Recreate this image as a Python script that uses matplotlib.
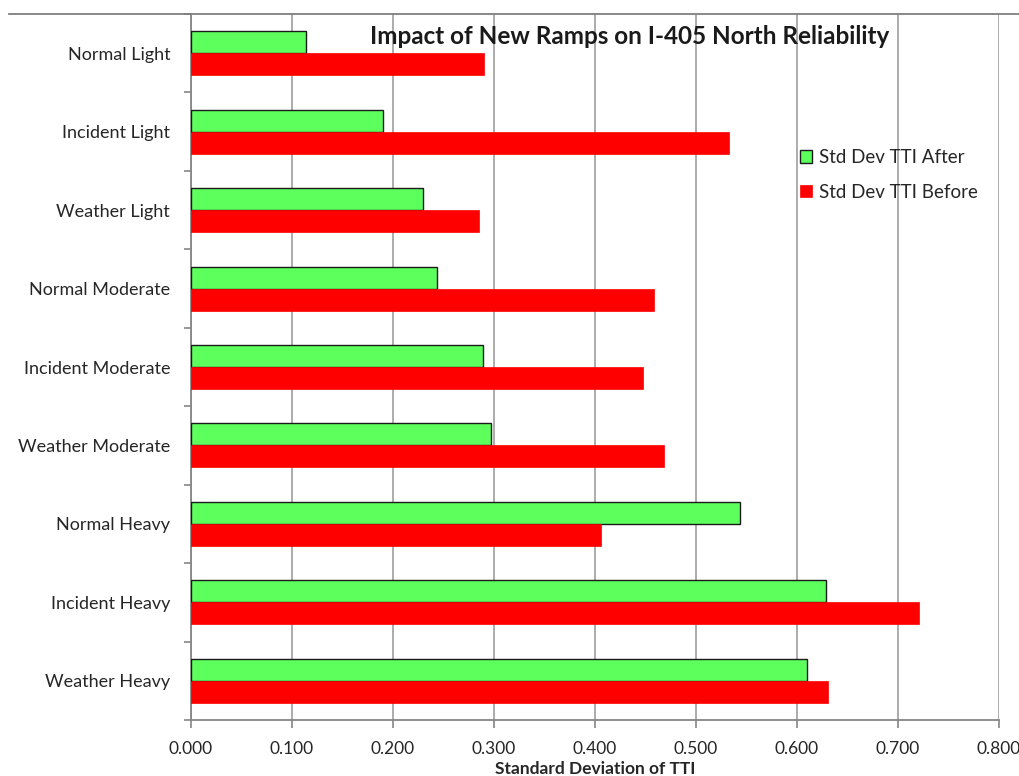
import numpy as np
import matplotlib.pyplot as plt
from matplotlib.lines import Line2D

plt.rcParams['font.family'] = ['Lato', 'DejaVu Sans']

categories = ['Normal Light', 'Incident Light', 'Weather Light',
              'Normal Moderate', 'Incident Moderate', 'Weather Moderate',
              'Normal Heavy', 'Incident Heavy', 'Weather Heavy']
std_after = [0.114, 0.190, 0.230, 0.244, 0.289, 0.297, 0.544, 0.629, 0.610]
std_before = [0.290, 0.533, 0.285, 0.458, 0.448, 0.468, 0.406, 0.721, 0.631]
xticks = [0.0, 0.1, 0.2, 0.3, 0.4, 0.5, 0.6, 0.7, 0.8]

green = '#5CFF5C'
red = '#FF0000'
grid_col = '#A6A6A6'
axis_col = '#868686'
text_col = '#262626'

fig = plt.figure(figsize=(10.19, 7.76), dpi=100)
ax = fig.add_axes([191 / 1019, 1 - 720 / 776, 808 / 1019, 706 / 776])

y = np.arange(len(categories))
h = 0.28
ax.barh(y - h / 2, std_after, height=h, color=green, edgecolor='#1a1a1a',
        linewidth=1.0, label='Std Dev TTI After', zorder=3)
ax.barh(y + h / 2, std_before, height=h, color=red, edgecolor=red,
        linewidth=0.5, label='Std Dev TTI Before', zorder=3)

ax.set_ylim(len(categories) - 0.5, -0.5)
ax.set_xlim(0, 0.8)

# category separators as major ticks, names on unmarked minor ticks
ax.set_yticks(np.arange(len(categories) + 1) - 0.5)
ax.set_yticklabels([])
ax.set_yticks(y, minor=True)
ax.set_yticklabels(categories, minor=True, fontsize=13, color=text_col)
ax.tick_params(axis='y', which='major', length=5, width=1.2, color=axis_col)
ax.tick_params(axis='y', which='minor', length=0, pad=15)

ax.set_xticks(xticks)
ax.set_xticklabels([f'{v:.3f}' for v in xticks], fontsize=12.5, color=text_col)
ax.tick_params(axis='x', length=6, width=1.2, color=axis_col, pad=9)

ax.grid(axis='x', color=grid_col, linewidth=1.3, zorder=0)
ax.set_axisbelow(True)
for s in ['top', 'right']:
    ax.spines[s].set_visible(False)
for s in ['left', 'bottom']:
    ax.spines[s].set_color(axis_col)
    ax.spines[s].set_linewidth(1.3)

ax.set_xlabel('Standard Deviation of TTI', fontsize=12.5, fontweight='bold',
              color=text_col, labelpad=3)

fig.text(630 / 1019, 1 - 36 / 776, 'Impact of New Ramps on I-405 North Reliability',
         ha='center', va='center', fontsize=17.5, fontweight='bold', color='#1a1a1a')

# outer frame edge along the top
fig.add_artist(Line2D([9 / 1019, 1], [1 - 14 / 776, 1 - 14 / 776],
                      color='#7f7f7f', linewidth=1.3))

leg = ax.legend(loc='upper left', bbox_to_anchor=(783 / 1019, 1 - 132 / 776),
                bbox_transform=fig.transFigure, frameon=False, fontsize=13.5,
                handlelength=0.65, handleheight=0.65, handletextpad=0.35,
                labelspacing=0.95)
for t in leg.get_texts():
    t.set_color(text_col)

fig.savefig('out.png', dpi=100)
